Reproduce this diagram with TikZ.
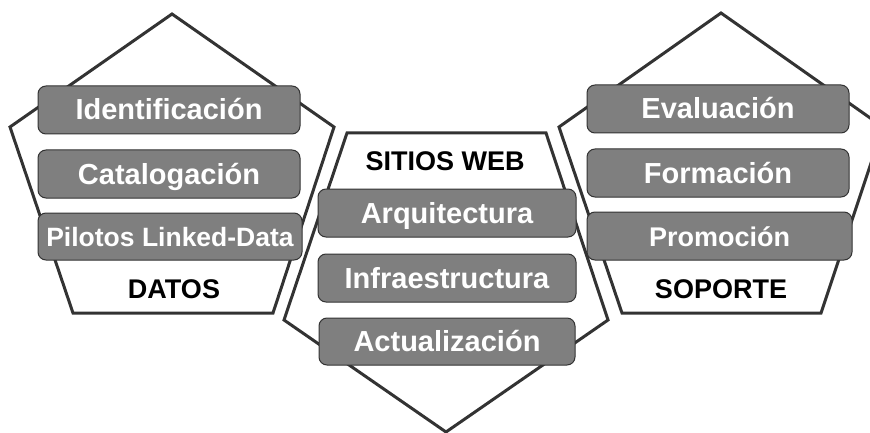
\documentclass[tikz,border=0pt]{standalone}
\usepackage{fontspec}
\setmainfont{Liberation Sans}
\usepackage{tikz}
\usetikzlibrary{positioning}

\definecolor{gris}{HTML}{7F7F7F}
\definecolor{borde}{HTML}{333333}

\tikzset{
  marco/.style={draw=borde, line width=3pt, line join=miter},
  caja/.style={draw=borde, line width=1pt, fill=gris, rounded corners=8pt,
    text=white, font=\bfseries\fontsize{29}{29}\selectfont,
    minimum width=262pt, minimum height=48pt, inner sep=0pt,
    text height=20pt, text depth=0pt},
  titulo/.style={font=\bfseries\fontsize{27}{27}\selectfont, anchor=base}
}

\begin{document}
\begin{tikzpicture}[x=1pt,y=-1pt]
\useasboundingbox (0,0) rectangle (870,433);
\begin{scope}
\clip (0,0) rectangle (870,433);
% pentagonos
\draw[marco] (172,14) -- (334,127) -- (273,313) -- (73,313) -- (10,127) -- cycle;
\draw[marco] (347,133) -- (546,133) -- (608,320) -- (446,432) -- (284,320) -- cycle;
\draw[marco] (721,13) -- (883,127) -- (821,313) -- (622,313) -- (559,127) -- cycle;
\end{scope}
%
\node[titulo] (datos) at (174,298) {DATOS};
\node[titulo] (sitios) at (445,170) {SITIOS WEB};
\node[titulo] (soporte) at (721,298) {SOPORTE};
%
\node[caja] (ident) at (169,110) {Identificación};
\node[caja, below=15pt of ident] (catalog) {Catalogación};
\node[caja, minimum width=264pt, minimum height=47pt, font=\bfseries\fontsize{26.5}{26.5}\selectfont,
  below=14pt of catalog.south west, anchor=north west] (pilotos) {Pilotos Linked-Data};
%
\node[caja, minimum width=258pt] (arqui) at (447,213) {Arquitectura};
\node[caja, minimum width=258pt, below=16pt of arqui] (infra) {Infraestructura};
\node[caja, minimum width=256pt, minimum height=47pt, below=15pt of infra] (actual) {Actualización};
%
\node[caja] (evalua) at (718,109) {Evaluación};
\node[caja, below=15pt of evalua] (forma) {Formación};
\node[caja, minimum width=265pt, font=\bfseries\fontsize{27}{27}\selectfont,
  below=14pt of forma.south west, anchor=north west] (promo) {Promoción};
\end{tikzpicture}
\end{document}
